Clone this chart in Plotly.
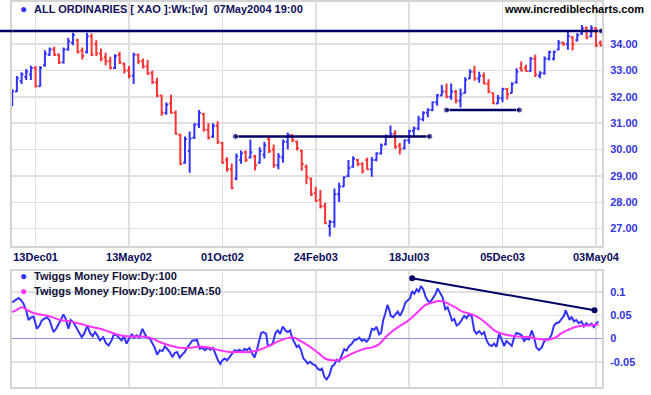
import plotly.graph_objects as go

# ---------------- data ----------------
tick_weeks = [5, 25, 45, 65, 85, 105, 125]
tick_labels = ["13Dec01", "13May02", "01Oct02", "24Feb03", "18Jul03", "05Dec03", "03May04"]

price_open = [31.75, 32.20, 32.60, 32.75, 32.85, 33.10, 32.40, 33.20, 33.60, 33.80,
              33.60, 33.30, 33.80, 34.05, 34.15, 33.75, 33.70, 34.30, 34.00, 33.65,
              33.50, 33.35, 33.10, 33.60, 33.25, 33.00, 32.80, 33.60, 33.35, 33.15,
              32.90, 32.55, 32.05, 31.40, 31.75, 31.40, 30.55, 29.50, 29.95, 30.45,
              30.95, 31.35, 30.75, 30.50, 30.90, 30.25, 29.60, 29.25, 28.90, 29.60,
              29.90, 29.70, 29.75, 29.50, 29.80, 30.40, 30.00, 29.40, 29.70, 30.30,
              30.55, 30.30, 29.95, 29.35, 28.90, 28.35, 28.10, 27.85, 27.10, 27.25,
              28.30, 28.60, 29.00, 29.35, 29.60, 29.45, 29.60, 29.25, 29.60, 29.85,
              30.20, 30.50, 30.60, 30.15, 30.05, 30.35, 30.70, 30.80, 31.15, 31.40,
              31.50, 31.80, 32.05, 32.20, 32.00, 32.20, 31.85, 32.15, 32.70, 32.95,
              32.70, 32.80, 32.50, 32.15, 31.75, 31.95, 32.30, 32.15, 32.55, 33.10,
              33.10, 32.98, 33.45, 32.80, 32.90, 33.45, 33.45, 33.80, 34.05, 34.00,
              34.25, 34.15, 34.40, 34.60, 34.30, 34.60, 34.05]
price_high = [32.29, 32.79, 32.93, 33.06, 33.18, 33.17, 33.17, 33.77, 33.87, 33.90,
              33.65, 33.87, 34.24, 34.43, 34.21, 33.87, 34.43, 34.40, 34.15, 33.84,
              33.67, 33.52, 33.62, 33.71, 33.30, 33.17, 33.67, 33.65, 33.46, 33.40,
              33.00, 32.73, 32.08, 31.79, 32.08, 31.48, 30.60, 30.50, 30.69, 31.00,
              31.50, 31.40, 31.00, 31.00, 31.07, 30.29, 29.71, 29.47, 29.85, 29.96,
              29.96, 30.38, 29.79, 30.09, 30.29, 30.50, 30.19, 29.87, 30.38, 30.65,
              30.57, 30.34, 30.00, 29.43, 28.93, 28.59, 28.47, 27.99, 27.33, 28.52,
              28.74, 28.99, 29.60, 29.75, 29.65, 29.52, 29.69, 29.72, 29.90, 30.23,
              30.57, 30.91, 30.73, 30.25, 30.38, 30.75, 30.88, 31.28, 31.45, 31.57,
              31.82, 32.11, 32.45, 32.51, 32.51, 32.26, 32.32, 32.74, 33.05, 33.17,
              32.95, 32.92, 32.67, 32.16, 32.07, 32.35, 32.34, 32.55, 33.09, 33.34,
              33.22, 33.51, 33.60, 32.97, 33.53, 33.75, 33.76, 34.16, 34.10, 34.50,
              34.31, 34.41, 34.73, 34.67, 34.72, 34.64, 34.14]
price_low = [31.64, 32.18, 32.49, 32.64, 32.64, 32.36, 32.39, 33.14, 33.55, 33.55,
             33.25, 33.27, 33.75, 33.96, 33.65, 33.42, 33.65, 33.55, 33.55, 33.35,
             33.20, 33.04, 33.06, 33.25, 32.89, 32.70, 32.49, 33.25, 33.08, 32.83,
             32.49, 31.99, 31.28, 31.32, 31.36, 30.57, 29.40, 29.46, 29.12, 30.40,
             30.82, 30.69, 30.38, 30.44, 30.21, 29.46, 29.16, 28.49, 28.84, 29.46,
             29.53, 29.66, 29.21, 29.46, 29.66, 29.87, 29.31, 29.25, 29.50, 30.00,
             30.29, 29.96, 29.20, 28.68, 28.24, 28.01, 27.76, 27.17, 26.70, 27.04,
             28.01, 28.59, 28.95, 29.31, 29.37, 29.09, 29.22, 28.97, 29.56, 29.81,
             30.15, 30.44, 30.03, 29.81, 30.00, 30.22, 30.50, 30.73, 31.07, 31.23,
             31.45, 31.66, 32.04, 31.95, 31.89, 31.76, 31.60, 32.14, 32.67, 32.61,
             32.54, 32.49, 32.14, 31.73, 31.73, 31.80, 31.90, 32.15, 32.50, 32.96,
             32.96, 32.96, 32.75, 32.71, 32.84, 33.38, 33.38, 33.76, 33.94, 33.79,
             33.76, 34.10, 34.35, 34.19, 34.26, 33.89, 33.91]
price_close = [32.20, 32.70, 32.85, 32.95, 33.10, 32.40, 33.10, 33.65, 33.80, 33.60,
               33.30, 33.80, 34.10, 34.35, 33.70, 33.55, 34.30, 33.60, 33.65, 33.45,
               33.35, 33.10, 33.55, 33.30, 33.00, 32.80, 33.60, 33.35, 33.15, 32.90,
               32.55, 32.05, 31.40, 31.70, 31.40, 30.60, 29.45, 30.40, 30.42, 30.95,
               31.40, 30.75, 30.45, 30.90, 30.30, 29.50, 29.25, 28.55, 29.75, 29.85,
               29.60, 29.90, 29.40, 29.95, 30.15, 29.95, 29.40, 29.75, 30.30, 30.55,
               30.35, 30.05, 29.45, 28.95, 28.30, 28.05, 27.85, 27.20, 27.25, 28.30,
               28.60, 28.95, 29.30, 29.65, 29.45, 29.20, 29.25, 29.60, 29.85, 30.15,
               30.50, 30.60, 30.10, 30.00, 30.35, 30.70, 30.80, 31.15, 31.40, 31.50,
               31.80, 32.05, 32.20, 32.00, 32.20, 31.85, 32.10, 32.65, 32.95, 32.70,
               32.80, 32.50, 32.20, 31.75, 31.95, 32.30, 32.10, 32.50, 32.95, 33.00,
               32.98, 33.45, 32.85, 32.90, 33.45, 33.70, 33.70, 34.05, 34.00, 34.30,
               34.00, 34.35, 34.60, 34.25, 34.60, 33.95, 33.95]
week_index = list(range(len(price_close)))

price_lines = [  # (start week, end week, level)
    (0.0, 126.2, 34.5),
    (47.8, 89.4, 30.5),
    (93.0, 108.6, 31.5),
]
price_ticks = [27, 28, 29, 30, 31, 32, 33, 34]

mf_week = [0.0, 0.64, 1.35, 1.85, 2.42, 2.99, 3.49, 3.99, 4.56, 4.91,
           5.27, 5.84, 6.33, 6.83, 7.40, 7.97, 8.47, 8.83, 9.40, 9.89,
           10.39, 10.96, 11.46, 12.03, 12.53, 13.10, 13.67, 14.23, 14.88, 15.37,
           16.09, 16.65, 17.22, 17.72, 18.22, 18.79, 19.50, 20.07, 20.64, 21.28,
           21.78, 22.35, 22.92, 23.42, 23.91, 24.48, 25.05, 25.62, 26.05, 26.62,
           27.19, 27.90, 28.40, 28.90, 29.47, 30.04, 30.53, 31.03, 31.60, 32.17,
           32.67, 33.17, 33.74, 34.31, 34.80, 35.30, 35.87, 36.44, 36.94, 37.44,
           38.01, 38.58, 39.07, 39.57, 40.14, 40.71, 41.21, 41.92, 42.42, 42.99,
           43.56, 44.06, 44.56, 44.98, 45.48, 45.98, 46.55, 47.12, 47.62, 48.11,
           48.68, 49.25, 49.75, 50.25, 50.82, 51.39, 51.89, 52.38, 52.81, 53.31,
           53.81, 54.38, 54.73, 55.23, 55.80, 56.37, 56.87, 57.37, 57.94, 58.51,
           59.00, 59.50, 59.93, 60.43, 60.93, 61.35, 61.85, 62.35, 62.78, 63.27,
           63.77, 64.34, 64.91, 65.41, 65.91, 66.33, 66.83, 67.33, 67.90,
           68.47, 68.97, 69.47, 70.04, 70.60, 71.10, 71.60, 72.17, 72.74, 73.24,
           73.74, 74.31, 74.88, 75.37, 75.87, 76.44, 77.01, 77.51, 78.01, 78.58,
           79.00, 79.43, 79.86, 80.36, 80.71, 81.07, 81.57, 82.06, 82.56, 83.06,
           83.63, 84.20, 84.70, 85.20, 85.62, 86.12, 86.62, 87.05, 87.54, 88.04,
           88.47, 88.97, 89.47, 90.04, 90.60, 91.10, 91.60, 92.17, 92.74, 93.24,
           93.74, 94.16, 94.66, 95.16, 95.73, 96.30, 96.80, 97.29, 97.86, 98.43,
           98.93, 99.43, 100.00, 100.57, 101.07, 101.57, 102.14, 102.70, 103.20, 103.70,
           104.27, 104.84, 105.34, 105.84, 106.41, 106.98, 107.47, 107.97, 108.54, 109.11,
           109.61, 110.11, 110.68, 111.25, 111.74, 112.24, 112.81, 113.38, 113.88, 114.38,
           114.95, 115.52, 116.01, 116.51, 117.08, 117.65, 118.15, 118.51, 118.86, 119.36,
           119.79, 120.28, 120.78, 121.35, 121.92, 122.42, 122.92, 123.49, 124.06, 124.56,
           125.05, 125.48]
mf_value = [0.078, 0.083, 0.0875, 0.083, 0.075, 0.060, 0.040, 0.045, 0.0475, 0.035,
            0.021, 0.028, 0.039, 0.0425, 0.046, 0.040, 0.025, 0.014, 0.021, 0.032,
            0.040, 0.052, 0.0425, 0.021, 0.040, 0.035, 0.025, 0.0175, 0.003, 0.010,
            0.028, 0.012, 0.005, 0.014, 0.007, -0.004, 0.003, -0.010, -0.015, -0.004,
            0.009, 0.007, 0.0, -0.004, 0.005, -0.011, 0.0, 0.010, 0.002, 0.007,
            0.002, 0.021, 0.010, 0.002, 0.0, -0.011, -0.020, -0.035, -0.025, -0.027,
            -0.017, -0.022, -0.029, -0.040, -0.031, -0.029, -0.041, -0.034, -0.029, -0.020,
            -0.011, -0.004, -0.004, -0.0025, -0.022, -0.020, -0.025, -0.020, -0.024, -0.020,
            -0.034, -0.047, -0.055, -0.047, -0.043, -0.047, -0.040, -0.0325, -0.025, -0.027,
            -0.024, -0.029, -0.022, -0.025, -0.020, -0.0325, -0.041, -0.025, -0.0075, 0.012,
            0.014, 0.010, -0.015, -0.015, -0.010, 0.012, 0.0175, 0.010, 0.026, 0.0175,
            0.014, 0.0175, 0.002, -0.0075, -0.018, -0.015, -0.025, -0.043, -0.047, -0.054,
            -0.050, -0.055, -0.0575, -0.065, -0.068, -0.065, -0.0825, -0.088, -0.079,
            -0.060, -0.056, -0.046, -0.049, -0.035, -0.023, -0.026, -0.016, -0.011, -0.0035,
            -0.002, 0.002, -0.005, -0.002, -0.007, 0.0, 0.021, 0.019, 0.025, 0.009,
            0.012, 0.039, 0.053, 0.0725, 0.063, 0.049, 0.046, 0.051, 0.058, 0.049,
            0.061, 0.0775, 0.082, 0.087, 0.102, 0.0965, 0.106, 0.101, 0.113, 0.106,
            0.0915, 0.082, 0.0775, 0.088, 0.095, 0.108, 0.0985, 0.089, 0.063, 0.067,
            0.053, 0.039, 0.042, 0.028, 0.032, 0.040, 0.049, 0.044, 0.053, 0.047,
            0.0175, 0.0105, 0.016, 0.009, 0.014, -0.0035, -0.014, -0.016, -0.011, -0.018,
            0.0105, -0.0035, -0.016, -0.005, -0.011, -0.016, 0.002, 0.012, 0.0105, 0.007,
            -0.005, 0.0, -0.002, 0.0175, 0.0035, -0.019, -0.025, -0.019, -0.007, -0.002,
            -0.002, 0.009, 0.028, 0.033, 0.035, 0.044, 0.049, 0.061, 0.053, 0.040,
            0.047, 0.037, 0.040, 0.033, 0.037, 0.026, 0.033, 0.028, 0.032, 0.025,
            0.032, 0.037]

ema_week = [0, 1.0, 2.06, 3.13, 4.56, 5.98, 8.11, 10.25, 12.38, 14.52,
            16.65, 18.79, 20.93, 23.06, 25.2, 27.33, 29.47, 31.6, 33.74, 35.87,
            38.0, 40.14, 42.28, 44.41, 46.55, 48.68, 50.82, 52.95, 55.09, 57.22,
            59.36, 60.43, 61.49, 63.63, 65.77, 67.19, 68.61, 70.04, 71.46, 72.88,
            74.31, 75.73, 77.15, 78.58, 80.0, 81.42, 82.85, 84.27, 85.69, 87.12,
            88.54, 89.96, 91.39, 92.46, 93.52, 94.95, 96.37, 97.79, 99.22, 100.64,
            102.06, 103.49, 104.91, 106.33, 107.76, 109.18, 110.6, 112.03, 113.45, 114.88,
            116.3, 117.72, 119.15, 120.57, 121.99, 123.42, 124.84, 125.55]
ema_value = [0.057, 0.062, 0.0675, 0.062, 0.055, 0.052, 0.0475, 0.040, 0.037, 0.032,
             0.026, 0.021, 0.014, 0.007, 0.0045, 0.0045, 0.002, -0.0075, -0.015, -0.020,
             -0.020, -0.017, -0.020, -0.025, -0.029, -0.029, -0.029, -0.024, -0.015, -0.005,
             0.002, 0.002, -0.004, -0.017, -0.033, -0.044, -0.047, -0.046, -0.039, -0.032,
             -0.026, -0.021, -0.019, -0.012, 0.0035, 0.016, 0.026, 0.035, 0.046, 0.060,
             0.0725, 0.0775, 0.081, 0.0795, 0.074, 0.067, 0.058, 0.054, 0.049, 0.040,
             0.028, 0.016, 0.0105, 0.007, 0.005, 0.0035, 0.0035, 0.0, -0.002, -0.002,
             0.002, 0.012, 0.019, 0.025, 0.0275, 0.028, 0.030, 0.030]

mf_trend_week = [85.65, 124.7]
mf_trend_value = [0.130, 0.061]
mf_ticks = [-0.05, 0, 0.05, 0.1]
mf_tick_labels = ["-0.05", "0", "0.05", "0.1"]

title_text = "ALL ORDINARIES [ XAO ]:Wk:[w]  07May2004 19:00"
site_text = "www.incrediblecharts.com"
mf_name = "Twiggs Money Flow:Dy:100"
ema_name = "Twiggs Money Flow:Dy:100:EMA:50"

# ---------------- styles ----------------
BLUE = "#3333ff"
RED = "#ff3333"
MAGENTA = "#ff33ff"
NAVY = "#000066"
GRID = "#e0e0e0"
BORDER = "#d4d4d4"
FONT = "Liberation Sans"

fig = go.Figure()

fig.add_trace(go.Ohlc(
    x=week_index, open=price_open, high=price_high, low=price_low, close=price_close,
    increasing=dict(line=dict(color=BLUE, width=2)),
    decreasing=dict(line=dict(color=RED, width=2)),
    tickwidth=0.4, xaxis="x", yaxis="y", hoverinfo="skip", showlegend=False))

for (w0, w1, lvl) in price_lines:
    fig.add_trace(go.Scatter(
        x=[w0, w1], y=[lvl, lvl], mode="lines+markers", xaxis="x", yaxis="y",
        line=dict(color=NAVY, width=2.5),
        marker=dict(color=NAVY, size=[0 if w0 == 0.0 else 6, 6]),
        cliponaxis=False, showlegend=False, hoverinfo="skip"))

# leftward extension of the resistance line beyond the plot frame
fig.add_shape(type="line", xref="paper", yref="y", x0=-0.05, x1=0,
              y0=price_lines[0][2], y1=price_lines[0][2],
              line=dict(color=NAVY, width=2.5))

fig.add_trace(go.Scatter(x=mf_week, y=mf_value, mode="lines", xaxis="x2", yaxis="y2",
                         line=dict(color=BLUE, width=2), showlegend=False, hoverinfo="skip"))
fig.add_trace(go.Scatter(x=ema_week, y=ema_value, mode="lines", xaxis="x2", yaxis="y2",
                         line=dict(color=MAGENTA, width=2, shape="spline"),
                         showlegend=False, hoverinfo="skip"))
fig.add_trace(go.Scatter(x=mf_trend_week, y=mf_trend_value, mode="lines+markers",
                         xaxis="x2", yaxis="y2", line=dict(color=NAVY, width=2),
                         marker=dict(color=NAVY, size=6), cliponaxis=False,
                         showlegend=False, hoverinfo="skip"))

xr = [-0.05, 126.3]
common_x = dict(range=xr, tickvals=tick_weeks, showgrid=True, gridcolor=GRID, gridwidth=1.5,
                showline=True, linecolor=BORDER, linewidth=2, mirror=True, zeroline=False,
                ticks="", fixedrange=True)

fig.update_layout(
    width=651, height=395,
    margin=dict(l=12, r=49, t=0, b=8),
    paper_bgcolor="white", plot_bgcolor="white",
    font=dict(family=FONT),
    xaxis=dict(**common_x, domain=[0, 1], anchor="y", ticktext=tick_labels,
               tickfont=dict(family=FONT, size=11, color="#0c0c5c", weight="bold"),
               rangeslider=dict(visible=False)),
    yaxis=dict(domain=[0.3669, 1], range=[26.35, 35.6], side="right", anchor="x",
               tickvals=price_ticks, tickformat=".2f", showgrid=True, gridcolor=GRID,
               gridwidth=1.5, showline=True, linecolor=BORDER, linewidth=2, mirror=True,
               zeroline=False, ticks="", ticklabelstandoff=4, automargin=False,
               fixedrange=True,
               tickfont=dict(family=FONT, size=11, color="#3535dd", weight="bold")),
    xaxis2=dict(**common_x, domain=[0, 1], anchor="y2", showticklabels=False),
    yaxis2=dict(domain=[0, 0.3023], range=[-0.1044, 0.1464], side="right", anchor="x2",
                tickvals=mf_ticks, ticktext=mf_tick_labels, showgrid=True, gridcolor=GRID,
                gridwidth=1.5, showline=True, linecolor=BORDER, linewidth=2, mirror=True,
                zeroline=True, zerolinecolor="#9090e0", zerolinewidth=1, ticks="",
                ticklabelstandoff=4, automargin=False, fixedrange=True,
                tickfont=dict(family=FONT, size=11, color="#3535dd", weight="bold")),
)

def label(x, y, text, color, size=11, anchor="left"):
    fig.add_annotation(xref="paper", yref="paper", x=x, y=y, text=text, showarrow=False,
                       xanchor=anchor, yanchor="middle", borderpad=0,
                       font=dict(family=FONT, size=size, color=color, weight="bold"))

label(0.0203, 0.981, "\u25cf", BLUE, size=12, anchor="center")
label(0.0356, 0.981, title_text, "#10105a")
label(1.073, 0.981, site_text, "#000000", anchor="right")
label(0.0203, 0.2894, "\u25cf", BLUE, size=12, anchor="center")
label(0.0356, 0.2894, mf_name, "#101038")
label(0.0203, 0.2506, "\u25cf", MAGENTA, size=12, anchor="center")
label(0.0356, 0.2506, ema_name, "#101038")

fig.write_html("out.html", config={"displayModeBar": False, "staticPlot": True},
               post_script="document.body.style.margin='0';")
